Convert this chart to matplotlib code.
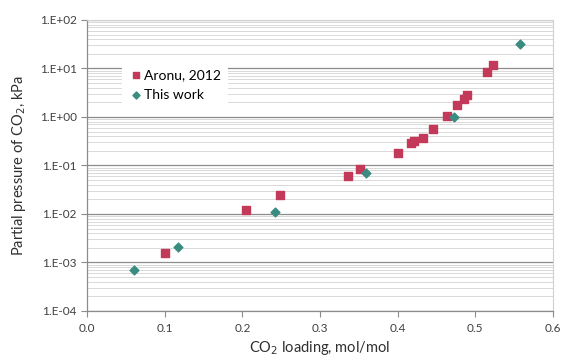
import numpy as np
import matplotlib
matplotlib.use("Agg")
import matplotlib.pyplot as plt
from matplotlib.ticker import LogLocator, FixedLocator, FuncFormatter

plt.rcParams['font.family'] = ['Lato', 'DejaVu Sans']

# data
aronu_x = [0.100, 0.205, 0.249, 0.336, 0.352, 0.401, 0.417, 0.421, 0.433,
           0.446, 0.464, 0.476, 0.485, 0.489, 0.515, 0.523]
aronu_y = [0.0016, 0.0123, 0.025, 0.062, 0.086, 0.18, 0.29, 0.32, 0.37,
           0.57, 1.03, 1.8, 2.3, 2.9, 8.6, 11.6]
work_x = [0.060, 0.117, 0.242, 0.359, 0.4725, 0.557]
work_y = [0.0007, 0.0021, 0.011, 0.069, 1.0, 32.5]

red = '#C3395A'
teal = '#3A8C80'

fig = plt.figure(figsize=(5.66, 3.62), dpi=100)
ax = fig.add_axes([0.1537, 0.1409, 0.8233, 0.8039])

ax.set_yscale('log')
ax.set_xlim(0, 0.6)
ax.set_ylim(1e-4, 1e2)

ax.yaxis.set_major_locator(LogLocator(base=10, numticks=10))
ax.yaxis.set_minor_locator(LogLocator(base=10, subs=np.arange(2, 10), numticks=20))
ax.yaxis.set_major_formatter(FuncFormatter(lambda v, p: '1.E%+03d' % round(np.log10(v))))
ax.yaxis.set_minor_formatter(FuncFormatter(lambda v, p: ''))
ax.xaxis.set_major_locator(FixedLocator(np.arange(0, 0.61, 0.1)))
ax.xaxis.set_major_formatter(FuncFormatter(lambda v, p: '%.1f' % v))

ax.grid(True, which='major', axis='y', color='#8c8c8c', linewidth=0.9)
ax.grid(True, which='minor', axis='y', color='#d9d9d9', linewidth=0.7)
ax.set_axisbelow(True)

for s in ['top', 'right']:
    ax.spines[s].set_color('#d0d0d0')
    ax.spines[s].set_linewidth(0.8)
for s in ['left', 'bottom']:
    ax.spines[s].set_color('#8c8c8c')
    ax.spines[s].set_linewidth(0.9)

ax.tick_params(axis='both', which='major', direction='out', length=4,
               color='#8c8c8c', labelsize=8.5, labelcolor='#404040')
ax.tick_params(axis='x', which='major', pad=5)
ax.tick_params(axis='y', which='minor', length=0)

ax.scatter(aronu_x, aronu_y, marker='s', s=26, color=red, label='Aronu, 2012', zorder=3)
ax.scatter(work_x, work_y, marker='D', s=20, color=teal, label='This work', zorder=3)

ax.set_xlabel('CO$_2$ loading, mol/mol', fontsize=10.5, color='#303030', labelpad=3)
ax.set_ylabel('Partial pressure of CO$_2$, kPa', fontsize=10.5, color='#303030', labelpad=8)

leg = ax.legend(loc='upper left', bbox_to_anchor=(0.06, 0.88), frameon=True,
                fontsize=10, handletextpad=0.1, borderpad=0.5,
                markerscale=0.8, handlelength=1.0, labelspacing=0.6)
leg.get_frame().set_facecolor('white')
leg.get_frame().set_edgecolor('none')
leg.get_frame().set_alpha(1)

fig.savefig('out.png', dpi=100)
